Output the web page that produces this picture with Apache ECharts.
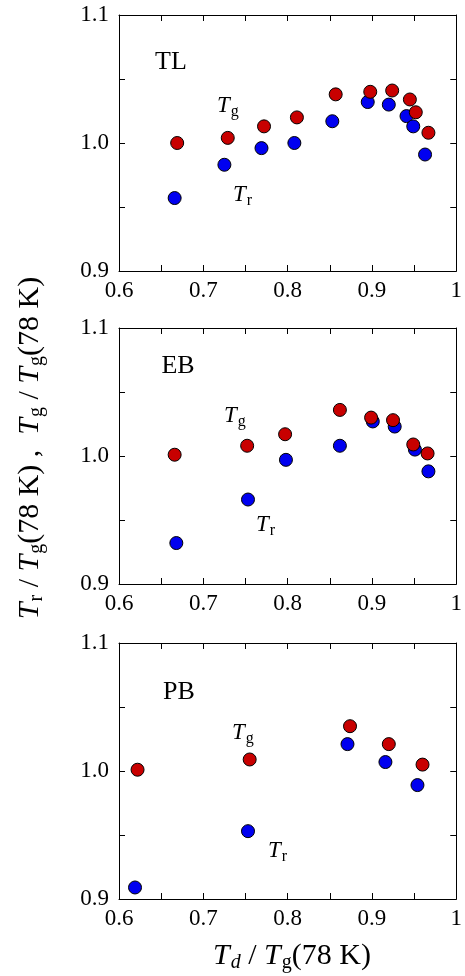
<!DOCTYPE html>
<html>
<head>
<meta charset="utf-8">
<script src="https://cdn.jsdelivr.net/npm/echarts@6/dist/echarts.min.js"></script>
<style>
  html, body { margin: 0; padding: 0; background: #fff; }
  #chart { width: 465px; height: 976px; }
</style>
</head>
<body>
<div id="chart"></div>
<script>
// TL
const tlTgX = [0.669, 0.729, 0.772, 0.811, 0.857, 0.898, 0.924, 0.945, 0.952, 0.967];
const tlTgY = [1.000, 1.004, 1.013, 1.020, 1.038, 1.040, 1.041, 1.034, 1.024, 1.008];
const tlTrX = [0.666, 0.725, 0.769, 0.808, 0.853, 0.895, 0.920, 0.941, 0.949, 0.963];
const tlTrY = [0.957, 0.983, 0.996, 1.000, 1.017, 1.032, 1.030, 1.021, 1.013, 0.991];
// EB
const ebTgX = [0.666, 0.752, 0.797, 0.862, 0.899, 0.925, 0.949, 0.966];
const ebTgY = [1.001, 1.008, 1.017, 1.036, 1.030, 1.028, 1.009, 1.002];
const ebTrX = [0.668, 0.753, 0.798, 0.862, 0.901, 0.927, 0.951, 0.967];
const ebTrY = [0.932, 0.966, 0.997, 1.008, 1.027, 1.023, 1.005, 0.988];
// PB
const pbTgX = [0.622, 0.755, 0.874, 0.920, 0.960];
const pbTgY = [1.001, 1.009, 1.035, 1.021, 1.005];
const pbTrX = [0.619, 0.753, 0.871, 0.916, 0.954];
const pbTrY = [0.909, 0.953, 1.021, 1.007, 0.989];

const panelNames = ['TL', 'EB', 'PB'];
const gridTops = [15, 328, 643];

const serif = 'Liberation Serif';
const red = '#c80000';
const blue = '#0000f0';

const zip = (xs, ys) => xs.map((x, i) => [x, ys[i]]);

const panels = [
  { tg: zip(tlTgX, tlTgY), tr: zip(tlTrX, tlTrY) },
  { tg: zip(ebTgX, ebTgY), tr: zip(ebTrX, ebTrY) },
  { tg: zip(pbTgX, pbTgY), tr: zip(pbTrX, pbTrY) }
];

const grids = [];
const xAxes = [];
const yAxes = [];
const series = [];

const xLabel = v => {
  const k = Math.round(v * 100);
  if (k % 10 !== 0) return '';
  return k === 100 ? '1' : (k / 100).toFixed(1);
};
const yLabel = v => {
  const k = Math.round(v * 100);
  return k % 10 === 0 ? (k / 100).toFixed(1) : '';
};

const axisBase = {
  type: 'value',
  interval: 0.05,
  splitLine: { show: false },
  axisLine: { onZero: false, lineStyle: { color: '#000', width: 1 } },
  axisTick: { inside: true, length: 6, lineStyle: { color: '#000', width: 1 } }
};

gridTops.forEach((top, i) => {
  grids.push({ left: 119, width: 340, top: top, height: 256 });
  // bottom / top x axes
  xAxes.push(Object.assign({}, axisBase, {
    gridIndex: i, min: 0.6, max: 1.0, position: 'bottom',
    axisLabel: { formatter: xLabel, color: '#000', fontFamily: serif, fontSize: 23, margin: 8 }
  }));
  xAxes.push(Object.assign({}, axisBase, {
    gridIndex: i, min: 0.6, max: 1.0, position: 'top', axisLabel: { show: false }
  }));
  // left / right y axes
  yAxes.push(Object.assign({}, axisBase, {
    gridIndex: i, min: 0.9, max: 1.1, position: 'left',
    axisLabel: { formatter: yLabel, color: '#000', fontFamily: serif, fontSize: 23, margin: 10 }
  }));
  yAxes.push(Object.assign({}, axisBase, {
    gridIndex: i, min: 0.9, max: 1.1, position: 'right', axisLabel: { show: false }
  }));

  // Tr first, Tg drawn on top
  series.push({
    type: 'scatter', xAxisIndex: i * 2, yAxisIndex: i * 2,
    data: panels[i].tr, symbolSize: 13,
    itemStyle: { color: blue, borderColor: '#000', borderWidth: 1, opacity: 1 }
  });
  series.push({
    type: 'scatter', xAxisIndex: i * 2, yAxisIndex: i * 2,
    data: panels[i].tg, symbolSize: 13,
    itemStyle: { color: red, borderColor: '#000', borderWidth: 1, opacity: 1 }
  });
});

// 文字标注
const rich = {
  t: { fontFamily: serif, fontStyle: 'italic', fontSize: 23, color: '#000' },
  s: { fontFamily: serif, fontSize: 16, color: '#000', padding: [11, 0, 0, 1] }
};
const bigRich = {
  t: { fontFamily: serif, fontStyle: 'italic', fontSize: 30, color: '#000' },
  n: { fontFamily: serif, fontSize: 30, color: '#000' },
  s: { fontFamily: serif, fontSize: 20, color: '#000', padding: [14, 0, 0, 1] },
  d: { fontFamily: serif, fontStyle: 'italic', fontSize: 20, color: '#000', padding: [14, 0, 0, 1] }
};

const graphic = [];
const nameCenters = [[171, 62], [178, 366], [179, 692]];
const tgPos = [[217, 106], [224, 416], [232, 733]];
const trPos = [[233, 195], [256, 525], [268, 851]];

panelNames.forEach((name, i) => {
  graphic.push({
    type: 'text', x: nameCenters[i][0], y: nameCenters[i][1],
    style: { text: name, fontFamily: serif, fontSize: 26, fill: '#000', align: 'center', verticalAlign: 'middle' }
  });
  graphic.push({
    type: 'text', x: tgPos[i][0], y: tgPos[i][1],
    style: { text: '{t|T}{s|g}', rich: rich, align: 'left', verticalAlign: 'middle' }
  });
  graphic.push({
    type: 'text', x: trPos[i][0], y: trPos[i][1],
    style: { text: '{t|T}{s|r}', rich: rich, align: 'left', verticalAlign: 'middle' }
  });
});

// x axis title
graphic.push({
  type: 'text', x: 292, y: 956,
  style: {
    text: '{t|T}{d|d}{n| / }{t|T}{s|g}{n|(78 K)}',
    rich: bigRich, align: 'center', verticalAlign: 'middle'
  }
});
// y axis title
graphic.push({
  type: 'text', x: 30, y: 448, rotation: Math.PI / 2,
  style: {
    text: '{t|T}{s|r}{n| / }{t|T}{s|g}{n|(78 K) ,  }{t|T}{s|g}{n| / }{t|T}{s|g}{n|(78 K)}',
    rich: bigRich, align: 'center', verticalAlign: 'middle'
  }
});

const chart = echarts.init(document.getElementById('chart'));
chart.setOption({
  animation: false,
  grid: grids,
  xAxis: xAxes,
  yAxis: yAxes,
  series: series,
  graphic: graphic
});
</script>
</body>
</html>
